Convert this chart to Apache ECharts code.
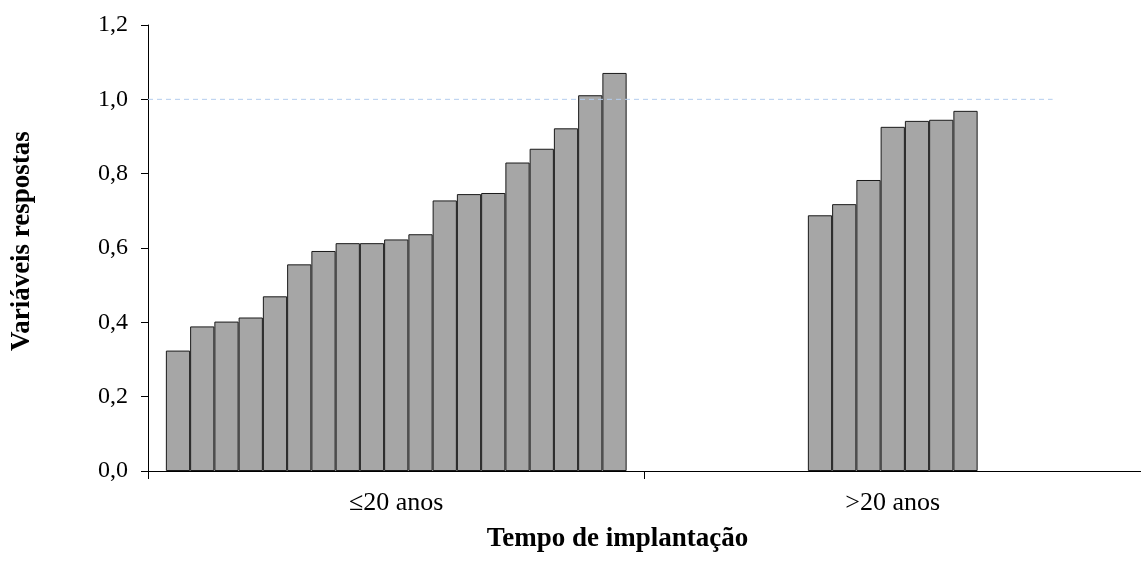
<!DOCTYPE html>
<html>
<head>
<meta charset="utf-8">
<script src="https://cdn.jsdelivr.net/npm/echarts@6/dist/echarts.min.js"></script>
<style>html,body{margin:0;padding:0;background:#fff;}#c{width:1141px;height:567px;}</style>
</head>
<body>
<div id="c"></div>
<script>
const categories = ['≤20 anos', '>20 anos'];
const group1 = [0.324, 0.389, 0.402, 0.413, 0.470, 0.556, 0.592, 0.613, 0.613, 0.623, 0.637, 0.728, 0.745, 0.748, 0.830, 0.867, 0.922, 1.011, 1.071];
const group2 = [0.688, 0.718, 0.783, 0.926, 0.942, 0.945, 0.969];
const refLevel = 1.0;
const refLineExtent = [0, 0.911];
const xTitle = 'Tempo de implantação';
const yTitle = 'Variáveis respostas';

const FONT = 'Liberation Serif';
const offset2 = Math.floor((group1.length - group2.length) / 2);
const series = group1.map((v, i) => {
  const j = i - offset2;
  const v2 = (j >= 0 && j < group2.length) ? group2[j] : '-';
  return {
    type: 'bar',
    xAxisIndex: 0, yAxisIndex: 0,
    data: [v, v2],
    barGap: '0%',
    barCategoryGap: '7.2%',
    itemStyle: { color: '#a6a6a6', borderColor: '#1a1a1a', borderWidth: 1 },
    silent: true
  };
});
series.push({
  type: 'line',
  xAxisIndex: 1, yAxisIndex: 0,
  data: refLineExtent.map(x => [x, refLevel]),
  symbol: 'none',
  lineStyle: { color: '#b4cdee', width: 1, type: [5, 4] },
  z: 5, silent: true
});

const chart = echarts.init(document.getElementById('c'), null, { renderer: 'canvas' });
chart.setOption({
  animation: false,
  grid: { left: 148, right: 0, top: 25, bottom: 96, containLabel: false },
  xAxis: [{
    type: 'category',
    data: categories,
    boundaryGap: true,
    axisLine: { show: true, lineStyle: { color: '#000', width: 1 } },
    axisTick: { show: true, length: 8, alignWithLabel: false, lineStyle: { color: '#000' } },
    axisLabel: { margin: 19, color: '#000', fontFamily: FONT, fontSize: 26 },
    splitLine: { show: false },
    name: xTitle,
    nameLocation: 'middle',
    nameGap: 55,
    nameTextStyle: { color: '#000', fontFamily: FONT, fontSize: 27, fontWeight: 'bold', padding: [0, 54, 0, 0] }
  }, {
    type: 'value', min: 0, max: 1, show: false
  }],
  yAxis: [{
    type: 'value',
    min: 0, max: 1.2, interval: 0.2,
    axisLine: { show: true, lineStyle: { color: '#000', width: 1 } },
    axisTick: { show: true, length: 7, lineStyle: { color: '#000' } },
    axisLabel: { margin: 20, color: '#000', fontFamily: FONT, fontSize: 24,
      formatter: v => v.toFixed(1).replace('.', ',') },
    splitLine: { show: false },
    name: yTitle,
    nameLocation: 'middle',
    nameGap: 112,
    nameTextStyle: { color: '#000', fontFamily: FONT, fontSize: 27, fontWeight: 'bold', padding: [0, 0, 0, 14] }
  }],
  series: series
});
</script>
</body>
</html>
